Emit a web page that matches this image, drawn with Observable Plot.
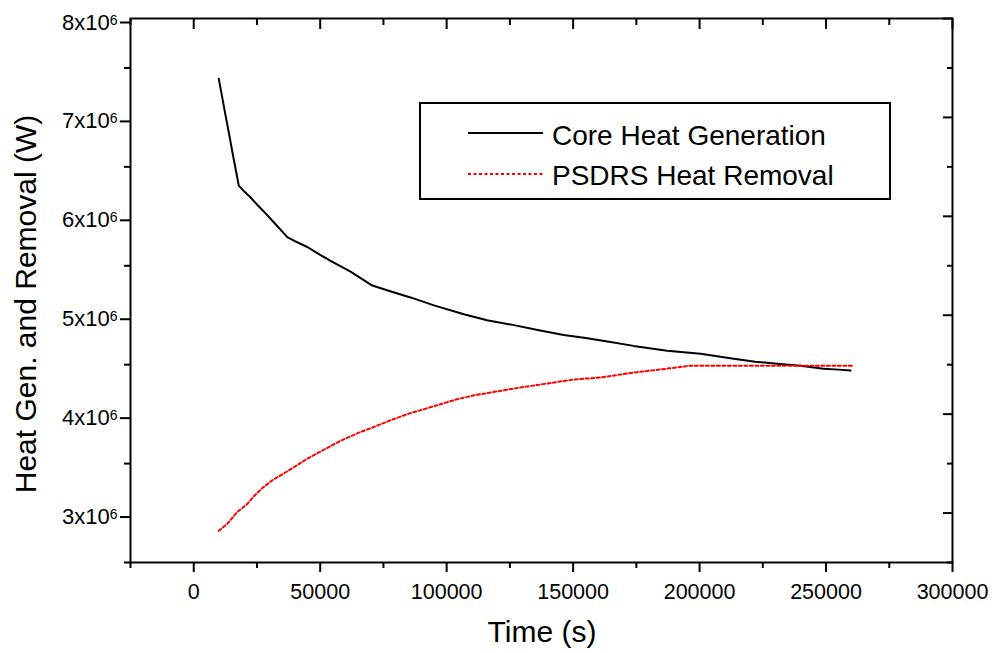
<!DOCTYPE html>
<html>
<head>
<meta charset="utf-8">
<script src="https://cdn.jsdelivr.net/npm/d3@7"></script>
<script src="https://cdn.jsdelivr.net/npm/@observablehq/plot@0.6"></script>
<style>
  html, body { margin: 0; padding: 0; background: #fff; }
  #chart { width: 994px; height: 653px; }
  svg { font-family: "Liberation Sans", Arial, sans-serif; }
</style>
</head>
<body>
<div id="chart"></div>
<script>
// Core Heat Generation: time (s) and power (in 10^6 W)
const coreTime = [9900, 11000, 12500, 14000, 15500, 17000, 17800, 20000, 22500, 25000, 28400, 32000, 37000, 40000, 44900, 50000, 54100, 62000, 70600, 78000, 85700, 95000, 106800, 116000, 126600, 136000, 146300, 155000, 164800, 173900, 187200, 200400, 213500, 222000, 230700, 239900, 249000, 255000, 259700];
const corePower = [7.39, 7.24, 7.03, 6.83, 6.62, 6.42, 6.31, 6.25, 6.19, 6.12, 6.03, 5.93, 5.79, 5.75, 5.69, 5.61, 5.55, 5.44, 5.30, 5.24, 5.18, 5.10, 5.01, 4.95, 4.90, 4.85, 4.80, 4.77, 4.73, 4.69, 4.64, 4.61, 4.56, 4.53, 4.51, 4.49, 4.46, 4.45, 4.44];

// PSDRS Heat Removal
const psdrsTime = [9900, 13200, 17200, 21100, 23800, 27000, 31000, 35600, 40000, 44900, 50000, 58000, 65000, 71200, 78000, 84400, 91000, 97600, 104000, 110800, 120000, 129200, 140000, 150000, 160800, 173900, 187200, 196400, 210000, 230000, 250000, 260400];
const psdrsPower = [2.82, 2.89, 3.01, 3.09, 3.17, 3.25, 3.33, 3.40, 3.47, 3.55, 3.62, 3.73, 3.81, 3.87, 3.94, 4.00, 4.05, 4.10, 4.15, 4.19, 4.23, 4.27, 4.31, 4.35, 4.37, 4.42, 4.46, 4.49, 4.49, 4.49, 4.49, 4.49];

const seriesNames = ["Core Heat Generation", "PSDRS Heat Removal"];
const xTitle = "Time (s)";
const yTitle = "Heat Gen. and Removal (W)";
const xMajorTicks = [0, 50000, 100000, 150000, 200000, 250000, 300000];
const xMinorTicks = [-25000, 25000, 75000, 125000, 175000, 225000, 275000];
const yMajorTicks = [3e6, 4e6, 5e6, 6e6, 7e6, 8e6];
const yMinorTicks = [2.5e6, 3.5e6, 4.5e6, 5.5e6, 6.5e6, 7.5e6];

const core = coreTime.map((t, i) => ({t, q: corePower[i] * 1e6}));
const psdrs = psdrsTime.map((t, i) => ({t, q: psdrsPower[i] * 1e6}));

const fontFamily = "Liberation Sans, Arial, sans-serif";
const redDash = "3,2.5";

const plot = Plot.plot({
  width: 994,
  height: 653,
  marginLeft: 130,
  marginRight: 42,
  marginTop: 18,
  marginBottom: 91,
  style: {fontFamily, background: "#fff", color: "#000"},
  x: {domain: [-25000, 300000]},
  y: {domain: [2.5e6, 8e6]},
  marks: [
    // bottom axis
    Plot.axisX({anchor: "bottom", ticks: xMajorTicks, tickSize: 10, tickPadding: 11, strokeWidth: 2,
      tickFormat: d => String(d), fontSize: 21.5, label: null}),
    Plot.axisX({anchor: "bottom", ticks: xMinorTicks, tickSize: 6, strokeWidth: 2, tickFormat: () => "", label: null}),
    // top axis (inward ticks)
    Plot.axisX({anchor: "top", ticks: xMajorTicks, tickSize: -10, strokeWidth: 2, tickFormat: () => "", label: null}),
    Plot.axisX({anchor: "top", ticks: xMinorTicks, tickSize: -6, strokeWidth: 2, tickFormat: () => "", label: null}),
    // left axis
    Plot.axisY({anchor: "left", ticks: yMajorTicks, tickSize: 10, tickPadding: 3, strokeWidth: 2, dy: 4,
      tickFormat: d => `${d / 1e6}x10`, fontSize: 22, label: null}),
    Plot.axisY({anchor: "left", ticks: yMinorTicks, tickSize: 6, strokeWidth: 2, tickFormat: () => "", label: null}),
    // right axis (inward ticks)
    Plot.axisY({anchor: "right", ticks: yMajorTicks, tickSize: -10, strokeWidth: 2, tickFormat: () => "", label: null}),
    Plot.axisY({anchor: "right", ticks: yMinorTicks, tickSize: -6, strokeWidth: 2, tickFormat: () => "", label: null}),
    Plot.frame({stroke: "#000", strokeWidth: 2}),
    Plot.line(core, {x: "t", y: "q", stroke: "#000", strokeWidth: 2}),
    Plot.line(psdrs, {x: "t", y: "q", stroke: "#ff0000", strokeWidth: 2, strokeDasharray: redDash})
  ]
});

document.getElementById("chart").appendChild(plot);

const svg = d3.select(plot);

// superscript exponent on the (non-empty) y tick labels
svg.selectAll("text").each(function () {
  const s = this.textContent;
  if (/^\d+x10$/.test(s)) {
    d3.select(this).append("tspan")
      .attr("font-size", 14)
      .attr("dy", -5)
      .text("6");
  }
});

// axis titles
svg.append("text")
  .attr("x", 542).attr("y", 642)
  .attr("text-anchor", "middle").attr("font-size", 30).attr("fill", "#000")
  .attr("font-family", fontFamily)
  .text(xTitle);
svg.append("text")
  .attr("transform", "translate(36,304) rotate(-90)")
  .attr("text-anchor", "middle").attr("font-size", 30).attr("fill", "#000")
  .attr("font-family", fontFamily)
  .text(yTitle);

// legend inside the plot
const lg = svg.append("g").attr("font-family", fontFamily);
lg.append("rect").attr("x", 420).attr("y", 103).attr("width", 470).attr("height", 96)
  .attr("fill", "#fff").attr("stroke", "#000").attr("stroke-width", 2);
const legendStyles = [
  {stroke: "#000", dash: null, lineY: 133, textY: 145},
  {stroke: "#ff0000", dash: redDash, lineY: 174, textY: 185}
];
seriesNames.forEach((name, i) => {
  const st = legendStyles[i];
  const ln = lg.append("line").attr("x1", 468).attr("x2", 543).attr("y1", st.lineY).attr("y2", st.lineY)
    .attr("stroke", st.stroke).attr("stroke-width", 2);
  if (st.dash) ln.attr("stroke-dasharray", st.dash);
  lg.append("text").attr("x", 552).attr("y", st.textY)
    .attr("text-anchor", "start")
    .attr("font-size", 28).attr("fill", "#000").text(name);
});
</script>
</body>
</html>
